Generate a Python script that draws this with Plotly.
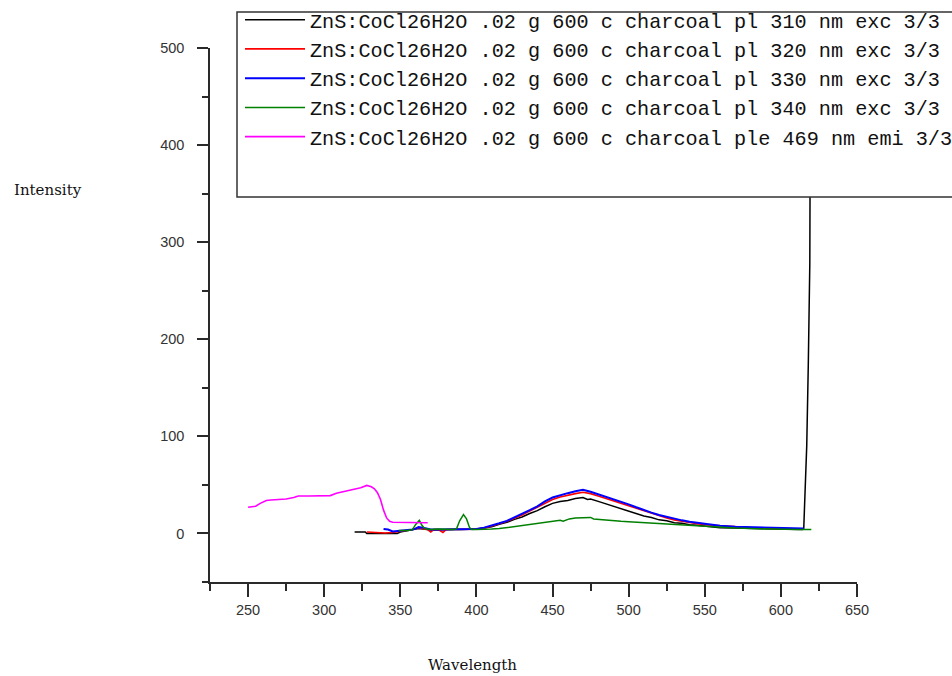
import plotly.graph_objects as go

# ---------------- data ----------------
names = [
    "ZnS:CoCl26H2O .02 g 600 c charcoal pl 310 nm exc 3/3",
    "ZnS:CoCl26H2O .02 g 600 c charcoal pl 320 nm exc 3/3",
    "ZnS:CoCl26H2O .02 g 600 c charcoal pl 330 nm exc 3/3",
    "ZnS:CoCl26H2O .02 g 600 c charcoal pl 340 nm exc 3/3",
    "ZnS:CoCl26H2O .02 g 600 c charcoal ple 469 nm emi 3/3",
]

x_310 = [320, 327, 328, 335, 340, 345, 348, 350, 355, 358, 360, 362, 365, 368, 370, 375, 380, 385, 390, 395,
         400, 405, 410, 415, 420, 425, 430, 435, 440, 445, 450, 455, 460, 465, 470, 473, 475, 480, 485, 490,
         495, 500, 505, 510, 515, 520, 525, 530, 535, 540, 545, 550, 555, 560, 570, 580, 590, 600, 610, 614,
         615, 616, 617, 618, 619, 620]
y_310 = [1.5, 1.5, 0, 0, -0.5, 0, 0, 1.5, 3, 3.5, 4, 5, 4.5, 4, 3.5, 3.5, 4, 4, 4, 4,
         4.5, 5.5, 7, 9.5, 11.5, 14.5, 17, 20.5, 23.5, 27.5, 31, 33, 34, 36, 37, 35, 35.5, 33, 30.5, 28,
         25.5, 23, 21, 18, 16.5, 14, 13, 11, 10.5, 9, 8.5, 7.5, 7, 6, 5.5, 5, 4.5, 4, 4, 4,
         4.5, 40, 91, 173, 278, 800]

x_320 = [328, 335, 340, 345, 350, 355, 358, 360, 362, 365, 368, 370, 372, 375, 378, 380, 383, 385, 390, 395,
         400, 405, 410, 415, 420, 425, 430, 435, 440, 445, 450, 455, 460, 465, 470, 475, 480, 485, 490, 495,
         500, 505, 510, 515, 520, 525, 530, 535, 540, 545, 550, 555, 560, 570, 580, 590, 600, 610, 615]
y_320 = [1.5, 1, 0.5, 1, 2, 3, 4, 5, 6, 5, 4, 1.5, 4, 4, 1, 4, 4, 4, 4, 4,
         4.5, 5.5, 7.5, 10, 12.5, 15.5, 19, 23, 27, 31, 35, 37.5, 39.5, 41, 42.5, 41, 38.5, 36, 33.5, 31,
         28.5, 26, 23, 20.5, 18, 16, 14, 12.5, 11, 10, 9, 8.5, 7.5, 6.5, 6, 5.5, 5, 4.5, 4.5]

x_330 = [339, 342, 345, 350, 355, 358, 360, 362, 365, 368, 370, 375, 380, 385, 390, 395,
         400, 405, 410, 415, 420, 425, 430, 435, 440, 445, 450, 455, 460, 465, 470, 475, 480, 485, 490, 495,
         500, 505, 510, 515, 520, 525, 530, 535, 540, 545, 550, 555, 560, 570, 580, 590, 600, 610, 615]
y_330 = [4.5, 4, 2, 2.5, 3, 4, 5, 6.5, 6, 5, 4, 4, 4, 4, 4, 4,
         4.5, 6, 8, 10.5, 13, 16.5, 20, 24, 28, 33, 37, 39.5, 41.5, 43.5, 45, 43, 40.5, 38, 35.5, 32.5,
         30, 27, 24, 21.5, 19, 17, 15, 13.5, 12, 11, 10, 9, 8, 7, 6.5, 6, 5.5, 5, 5]

x_340 = [349, 355, 358, 360, 362.5, 364, 366, 370, 375, 380, 385, 387, 389, 391.5, 393.5, 395.5, 397,
         400, 405, 410, 415, 420, 425, 430, 435, 440, 445, 450, 455, 457, 459, 461, 465, 470, 475, 477,
         480, 485, 490, 495, 500, 505, 510, 515, 520, 525, 530, 540, 550, 560, 570, 580, 590, 600, 610, 620]
y_340 = [3, 3, 4, 9, 13.5, 9, 5, 4, 4.5, 4, 4, 5, 13, 19.5, 15, 6, 4,
         4, 4, 4.5, 5, 6, 7, 8, 9, 10, 11.5, 12.5, 13.5, 12.5, 13.5, 15, 16, 16.5, 16.5, 15,
         14.5, 13.5, 13, 12.5, 12, 11.5, 11, 10.5, 10, 9.5, 9, 8, 7, 6, 5.5, 5, 4.5, 4, 4, 4]

x_ple = [250, 255, 258, 262, 265, 270, 275, 280, 283, 290, 295, 300, 304, 308, 312, 316, 320, 324, 328,
         331, 333, 335, 337, 339, 341, 343, 345, 350, 355, 360, 365, 368]
y_ple = [27, 28, 31, 34, 34.5, 35, 35.5, 37, 38.5, 38.5, 38.5, 38.5, 39, 41.5, 43, 44, 45.5, 47, 49.5,
         48, 46, 42, 35, 24, 16, 12.5, 11.5, 11.5, 11.5, 11.5, 11, 11]

colors = ["#000000", "#ff0000", "#0000ff", "#008000", "#ff00ff"]
widths = [1.5, 1.6, 2.0, 1.5, 1.6]
xs = [x_310, x_320, x_330, x_340, x_ple]
ys = [y_310, y_320, y_330, y_340, y_ple]

x_ticks = [250, 300, 350, 400, 450, 500, 550, 600, 650]
y_ticks = [0, 100, 200, 300, 400, 500]
x_range = [225, 650]
y_range = [-50, 500]

# ---------------- figure ----------------
W, H = 952, 676
L, R, T, B = 210, 857, 48, 582   # plot area in px

def px_x(p):
    return (p - L) / (R - L)

def px_y(p):
    return (B - p) / (B - T)

fig = go.Figure()
for n, x, y, c, w in zip(names, xs, ys, colors, widths):
    fig.add_trace(go.Scatter(x=x, y=y, mode="lines", name=n, legendgroup=n,
                             line=dict(color=c, width=w), hoverinfo="x+y"))

axis_col = "#2a2a2a"
tick_font = dict(family="Liberation Sans, Arial, sans-serif", size=14.5, color="#333333")

fig.update_xaxes(range=x_range, tickvals=x_ticks, showline=True, linecolor=axis_col, linewidth=1.5,
                 ticks="outside", ticklen=13, tickwidth=1.5, tickcolor=axis_col,
                 minor=dict(ticks="outside", ticklen=7, tickwidth=1.5, tickcolor=axis_col,
                            tick0=225, dtick=50, showgrid=False),
                 showgrid=False, zeroline=False, tickfont=tick_font, ticklabelstandoff=1)
fig.update_yaxes(range=y_range, tickvals=y_ticks, showline=True, linecolor=axis_col, linewidth=1.5,
                 ticks="outside", ticklen=11, tickwidth=1.5, tickcolor=axis_col,
                 minor=dict(ticks="outside", ticklen=6, tickwidth=1.5, tickcolor=axis_col,
                            tick0=-50, dtick=100, showgrid=False),
                 showgrid=False, zeroline=False, tickfont=tick_font, ticklabelstandoff=10)

# legend box (white, covers data behind it)
fig.add_shape(type="rect", xref="paper", yref="paper",
              x0=px_x(237), x1=px_x(975), y0=px_y(197), y1=px_y(12),
              fillcolor="white", line=dict(color="#333333", width=1.5), layer="above")

fig.add_annotation(text="Intensity", xref="paper", yref="paper", x=px_x(12), y=px_y(190),
                   xanchor="left", yanchor="middle", showarrow=False,
                   font=dict(family="DejaVu Serif, serif", size=15, color="#111111"))
fig.add_annotation(text="Wavelength", xref="paper", yref="paper", x=px_x(472), y=px_y(665),
                   xanchor="center", yanchor="middle", showarrow=False,
                   font=dict(family="DejaVu Serif, serif", size=15, color="#111111"))

fig.update_layout(
    width=W, height=H,
    margin=dict(l=L, r=W - R, t=T, b=H - B, autoexpand=False),
    plot_bgcolor="white", paper_bgcolor="white",
    showlegend=True,
    legend=dict(x=px_x(240), y=px_y(0), xanchor="left", yanchor="top",
                bgcolor="rgba(0,0,0,0)", borderwidth=0,
                font=dict(family="Liberation Mono, monospace", size=20.2, color="#111111"),
                tracegroupgap=0, itemwidth=60, traceorder="grouped"),
)

fig.write_html("out.html")
